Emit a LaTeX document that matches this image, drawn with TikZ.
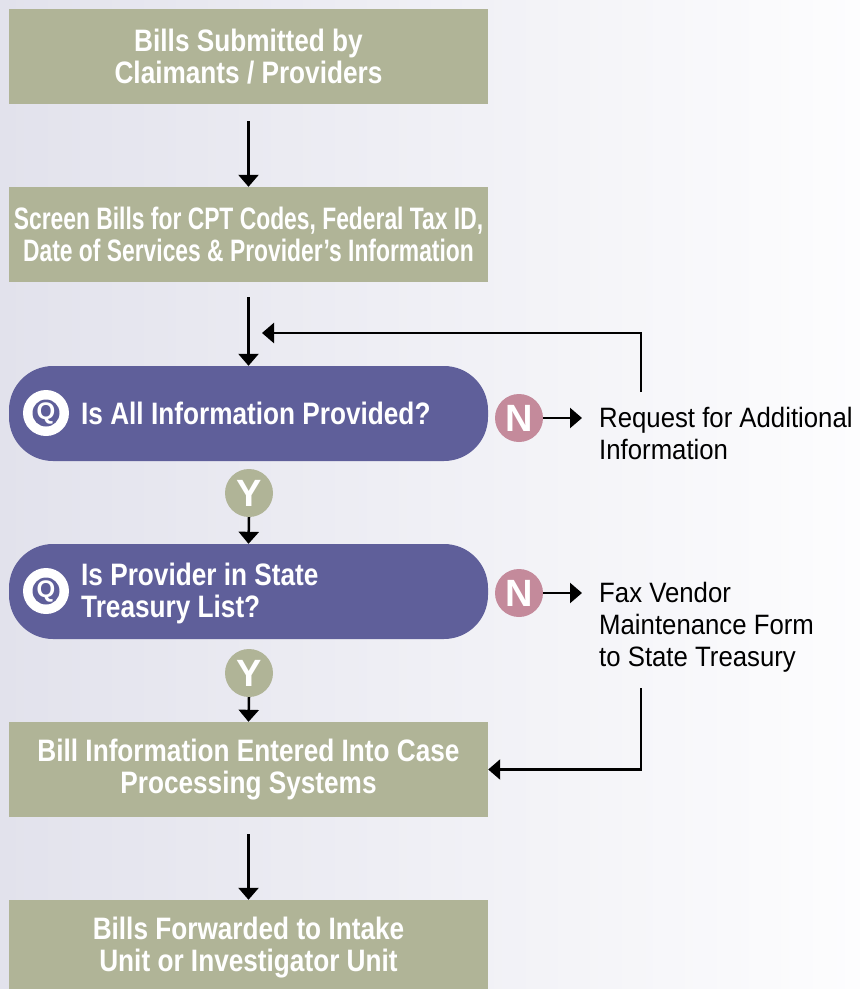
\documentclass[tikz,border=0pt]{standalone}
\usepackage{fontspec}
\setmainfont{Liberation Sans}
\newfontfamily\boxfont{Liberation Sans}[FakeStretch=0.845]
\newfontfamily\screenfont{Liberation Sans}[FakeStretch=0.737]
\newfontfamily\sidefont{Liberation Sans}[FakeStretch=0.92]
\usetikzlibrary{arrows.meta}
\definecolor{sage}{HTML}{B0B497}
\definecolor{quest}{HTML}{5F5F9A}
\definecolor{nopink}{HTML}{C48A9B}
\definecolor{bgleft}{HTML}{E2E2EC}
\definecolor{bgright}{HTML}{FDFDFE}

\begin{document}
\begin{tikzpicture}[x=1pt,y=-1pt,
    stepbox/.style={rectangle, fill=sage, text=white, minimum width=479pt, minimum height=95pt,
        inner sep=0pt, align=center, font=\boxfont\bfseries\fontsize{31}{32}\selectfont},
    questbox/.style={rectangle, rounded corners=44pt, fill=quest, minimum width=479pt, minimum height=95pt},
    qtext/.style={anchor=west, inner sep=0pt, align=left, text=white, font=\boxfont\bfseries\fontsize{31}{32}\selectfont},
    sidetext/.style={anchor=west, inner sep=0pt, align=left, font=\sidefont\fontsize{28}{32}\selectfont},
    yesdot/.style={circle, fill=sage, minimum size=48pt, inner sep=0pt, text=white, font=\bfseries\fontsize{38}{38}\selectfont},
    nodot/.style={yesdot, fill=nopink},
    arr/.style={-{Triangle[width=20pt,length=12pt]}, line width=2.5pt}]
        \clip (0,0) rectangle (860,989);
        \shade[left color=bgleft, right color=bgright] (0,0) rectangle (860,989);

        % main column
        \node[stepbox] (submit) at (248.5,56.5) {Bills Submitted by\\Claimants / Providers};
        \node[stepbox, font=\screenfont\bfseries\fontsize{31}{32}\selectfont] (screen) at (248.5,234.5)
            {Screen Bills for CPT Codes, Federal Tax ID,\\Date of Services \& Provider’s Information};
        \node[questbox] (allinfo) at (248.5,413.5) {};
        \node[questbox] (treasury) at (248.5,591.5) {};
        \node[stepbox] (entered) at (248.5,769.5) {Bill Information Entered Into Case\\Processing Systems};
        \node[stepbox] (forward) at (248.5,947.5) {Bills Forwarded to Intake\\Unit or Investigator Unit};

        % question marks and texts
        \foreach \q/\y in {qa/413, qb/591} {
            \node[circle, fill=white, minimum size=46pt, inner sep=0pt] (\q) at (46,\y) {};
            \node[circle, fill=quest, minimum size=27pt, inner sep=0pt] at (\q) {};
            \node[text=white, inner sep=0pt, font=\bfseries\fontsize{24}{24}\selectfont] at (\q) {Q};
        }
        \node[qtext] (allinfotext) at (81,413) {Is All Information Provided?};
        \node[qtext] (treasurytext) at (81,593) {Is Provider in State\\Treasury List?};

        % yes / no
        \node[yesdot] (yes1) at (249,493) {Y};
        \node[yesdot] (yes2) at (249,673) {Y};
        \node[nodot] (no1) at (519,418) {N};
        \node[nodot] (no2) at (519,593) {N};

        \node[sidetext] (request) at (599,433.5) {Request for Additional\\Information};
        \node[sidetext] (fax) at (599,627) {Fax Vendor\\Maintenance Form\\to State Treasury};

        % arrows
        \draw[arr, shorten <=17pt] (submit.south) -- (screen.north);
        \draw[arr, shorten <=15pt] (screen.south) -- (allinfo.north);
        \draw[arr] (yes1.south) -- (treasury.north);
        \draw[arr] (yes2.south) -- (entered.north);
        \draw[arr, shorten <=17pt] (entered.south) -- (forward.north);
        \draw[arr, shorten >=17pt] (no1.east) -- (request.west |- no1);
        \draw[arr, shorten >=17pt] (no2.east) -- (fax.west |- no2);

        % loops back
        \coordinate (back1) at (641,392);
        \coordinate (back1tip) at (262,333);
        \draw[arr] (back1) |- (back1tip);
        \coordinate (back2) at (641,688);
        \draw[arr] (back2) |- (entered.east);
    \end{tikzpicture}
\end{document}
